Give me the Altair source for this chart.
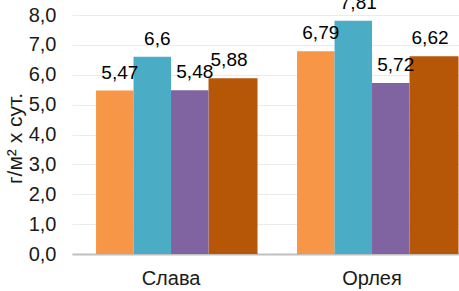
import altair as alt
import pandas as pd

groups = ["Слава", "Орлея"]
series = ["s1", "s2", "s3", "s4"]
colors = ["#F79646", "#4BACC6", "#8064A2", "#B65708"]
values = {
    "s1": [5.47, 6.79],
    "s2": [6.6, 7.81],
    "s3": [5.48, 5.72],
    "s4": [5.88, 6.62],
}

rows = []
for s in series:
    for g, v in zip(groups, values[s]):
        rows.append({"group": g, "series": s, "value": v,
                     "label": str(v).replace(".", ",")})
df = pd.DataFrame(rows)

FONT = "Liberation Sans"
TXT = "#1a1a1a"

x = alt.X("group:N", sort=groups, title=None,
          scale=alt.Scale(paddingInner=0.254, paddingOuter=0.0897, align=0.667),
          axis=alt.Axis(labelAngle=0, labelFontSize=20, labelFont=FONT, labelColor=TXT,
                        labelPadding=14, ticks=False, domainColor="#BFBFBF", domainWidth=2,
                        grid=False))
xo = alt.XOffset("series:N", sort=series,
                 scale=alt.Scale(domain=series, paddingInner=0, paddingOuter=0))
y = alt.Y("value:Q", scale=alt.Scale(domain=[0, 8], nice=False),
          title="г/м² х сут.",
          axis=alt.Axis(values=list(range(9)),
                        labelExpr="replace(format(datum.value, '.1f'), '.', ',')",
                        labelFontSize=20, labelFont=FONT, labelColor=TXT,
                        labelPadding=16, ticks=False, domain=False,
                        gridColor="#EBEBEB", gridWidth=1,
                        titleFont=FONT, titleFontSize=21, titleFontWeight="normal",
                        titleColor=TXT, titleAngle=-90, titleX=-57, titleY=123,
                        titleAlign="center", titleBaseline="middle"))
color = alt.Color("series:N", scale=alt.Scale(domain=series, range=colors), legend=None)

base = alt.Chart(df)
main = base.transform_filter(alt.datum.series != "s4")
last = base.transform_filter(alt.datum.series == "s4")

bars = main.mark_bar(width={"band": 1}).encode(x=x, xOffset=xo, y=y, color=color)
text = main.mark_text(font=FONT, fontSize=19, color="#000000", dy=-12, dx=5,
                      baseline="alphabetic").encode(x=x, xOffset=xo, y=y, text="label:N")

bars4 = last.mark_bar(width=49, xOffset=62).encode(x=x, y=y, color=color)
text4 = last.mark_text(font=FONT, fontSize=19, color="#000000", dy=-12, xOffset=58,
                       baseline="alphabetic").encode(x=x, y=y, text="label:N")

chart = alt.layer(bars4, bars, text, text4).properties(
    width=387, height=239,
    autosize=alt.AutoSizeParams(type="none"),
    padding={"left": 72, "top": 15, "right": 0, "bottom": 37},
).configure_view(stroke=None)

chart.save("out.html", embed_options={"renderer": "svg", "actions": False})
